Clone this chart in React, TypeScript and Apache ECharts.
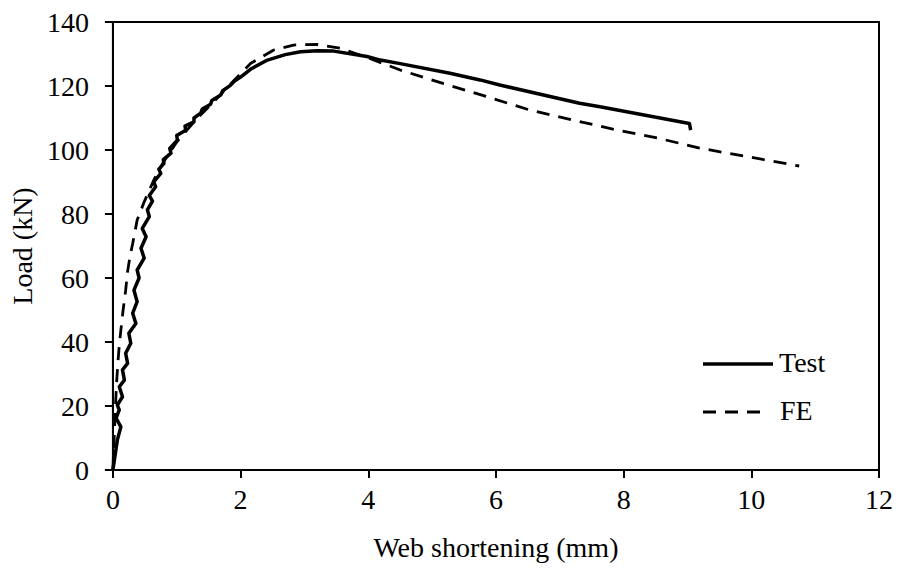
import React, { useEffect, useRef } from "react";
import * as echarts from "echarts";

// Web shortening (mm) vs load (kN)
const testCurve: [number, number][] = [
  [0, 0], [0.03, 4], [0.07, 9.4], [0.125, 13.5], [0.05, 16.2], [0.1, 18.8],
  [0.07, 20.3], [0.15, 22.9], [0.1, 26], [0.18, 28.1], [0.15, 31.3],
  [0.23, 33.3], [0.2, 36.5], [0.28, 39.6], [0.25, 42.7], [0.36, 45.8],
  [0.31, 49], [0.38, 52.6], [0.33, 56.2], [0.41, 60], [0.38, 62.5],
  [0.49, 66.2], [0.44, 69.3], [0.52, 72.9], [0.46, 75.5], [0.57, 79.2],
  [0.54, 81.3], [0.62, 84], [0.57, 85.8], [0.67, 88.5], [0.64, 90],
  [0.75, 92.7], [0.72, 94], [0.8, 95.8], [0.79, 97], [0.91, 99],
  [0.89, 100.5], [1.01, 103.1], [1.0, 104.5], [1.14, 106.2], [1.13, 107.5],
  [1.27, 108.8], [1.27, 110], [1.375, 111.5], [1.4, 112.8], [1.53, 114.3],
  [1.55, 115.5], [1.69, 117.2], [1.72, 118.5], [1.84, 120.2], [1.9, 121.5],
  [2.0, 122.8], [2.16, 125.3], [2.42, 128.1], [2.7, 129.8], [2.94, 130.7],
  [3.2, 131], [3.46, 130.9], [3.98, 129.2], [4.19, 128.1], [4.5, 127.0],
  [5.28, 124], [5.75, 121.9], [6.06, 120.3], [7.31, 114.6], [7.63, 113.5],
  [9.03, 108.3], [9.05, 106.2],
];

const feCurve: [number, number][] = [
  [0, 0], [0.02, 10], [0.04, 20], [0.06, 28], [0.08, 34], [0.1, 39],
  [0.125, 43.7], [0.16, 50], [0.2, 56.2], [0.23, 62], [0.27, 67],
  [0.31, 70.8], [0.38, 78.1], [0.49, 83.8], [0.65, 91], [0.8, 96.5],
  [1.0, 102.5], [1.3, 109.5], [1.6, 115.5], [1.9, 121.8], [2.16, 127.1],
  [2.52, 131.25], [2.83, 132.8], [3.2, 133], [3.56, 131.8], [4.0, 128.8],
  [4.5, 125], [5.17, 120.8], [5.85, 116.7], [6.53, 112.5], [7.2, 109.4],
  [7.89, 106.25], [8.56, 103.6], [8.98, 101.6], [9.19, 100.6], [10.75, 95],
];

const seriesNames = ["Test", "FE"];
const xTitle = "Web shortening (mm)";
const yTitle = "Load (kN)";

const FONT = "'Liberation Serif', 'Times New Roman', serif";
const FE_DASH = [13, 9];

export default function App() {
  const ref = useRef<HTMLDivElement>(null);

  useEffect(() => {
    if (!ref.current) return;
    const chart = echarts.init(ref.current, undefined, { renderer: "svg" });

    const axisCommon = {
      axisLine: { show: true, onZero: false, lineStyle: { color: "#000", width: 2 } },
      axisTick: { show: true, inside: false, length: 8, lineStyle: { color: "#000", width: 2 } },
      splitLine: { show: false },
      nameTextStyle: { fontFamily: FONT, fontSize: 28, color: "#000" },
    };

    chart.setOption({
      animation: false,
      backgroundColor: "#fff",
      grid: {
        left: 112,
        right: 22,
        top: 22,
        bottom: 99,
        show: true,
        borderColor: "#000",
        borderWidth: 2,
        backgroundColor: "transparent",
      },
      xAxis: {
        type: "value",
        min: 0,
        max: 12,
        interval: 2,
        name: xTitle,
        nameLocation: "middle",
        nameGap: 63,
        ...axisCommon,
        axisLabel: { fontFamily: FONT, fontSize: 28, color: "#000", margin: 15 },
      },
      yAxis: {
        type: "value",
        min: 0,
        max: 140,
        interval: 20,
        name: yTitle,
        nameLocation: "middle",
        nameGap: 74,
        ...axisCommon,
        axisLabel: { fontFamily: FONT, fontSize: 28, color: "#000", margin: 24 },
      },
      series: [
        {
          name: seriesNames[0],
          type: "line",
          data: testCurve,
          showSymbol: false,
          smooth: false,
          lineStyle: { color: "#000", width: 3.5, join: "round" },
          z: 3,
        },
        {
          name: seriesNames[1],
          type: "line",
          data: feCurve,
          showSymbol: false,
          smooth: false,
          lineStyle: { color: "#000", width: 2.8, type: FE_DASH },
          z: 2,
        },
      ],
      graphic: [
        {
          type: "line",
          shape: { x1: 703, y1: 364, x2: 773, y2: 364 },
          style: { stroke: "#000", lineWidth: 3.5 },
        },
        {
          type: "text",
          left: 779,
          top: 348,
          style: { text: seriesNames[0], font: `28px ${FONT}`, fill: "#000" },
        },
        {
          type: "line",
          shape: { x1: 703, y1: 412, x2: 762, y2: 412 },
          style: { stroke: "#000", lineWidth: 2.8, lineDash: FE_DASH },
        },
        {
          type: "text",
          left: 780,
          top: 396,
          style: { text: seriesNames[1], font: `28px ${FONT}`, fill: "#000" },
        },
      ],
    });

    return () => chart.dispose();
  }, []);

  return (
    <div
      ref={ref}
      style={{ position: "fixed", left: 0, top: 0, width: 901, height: 569, background: "#fff" }}
    />
  );
}
